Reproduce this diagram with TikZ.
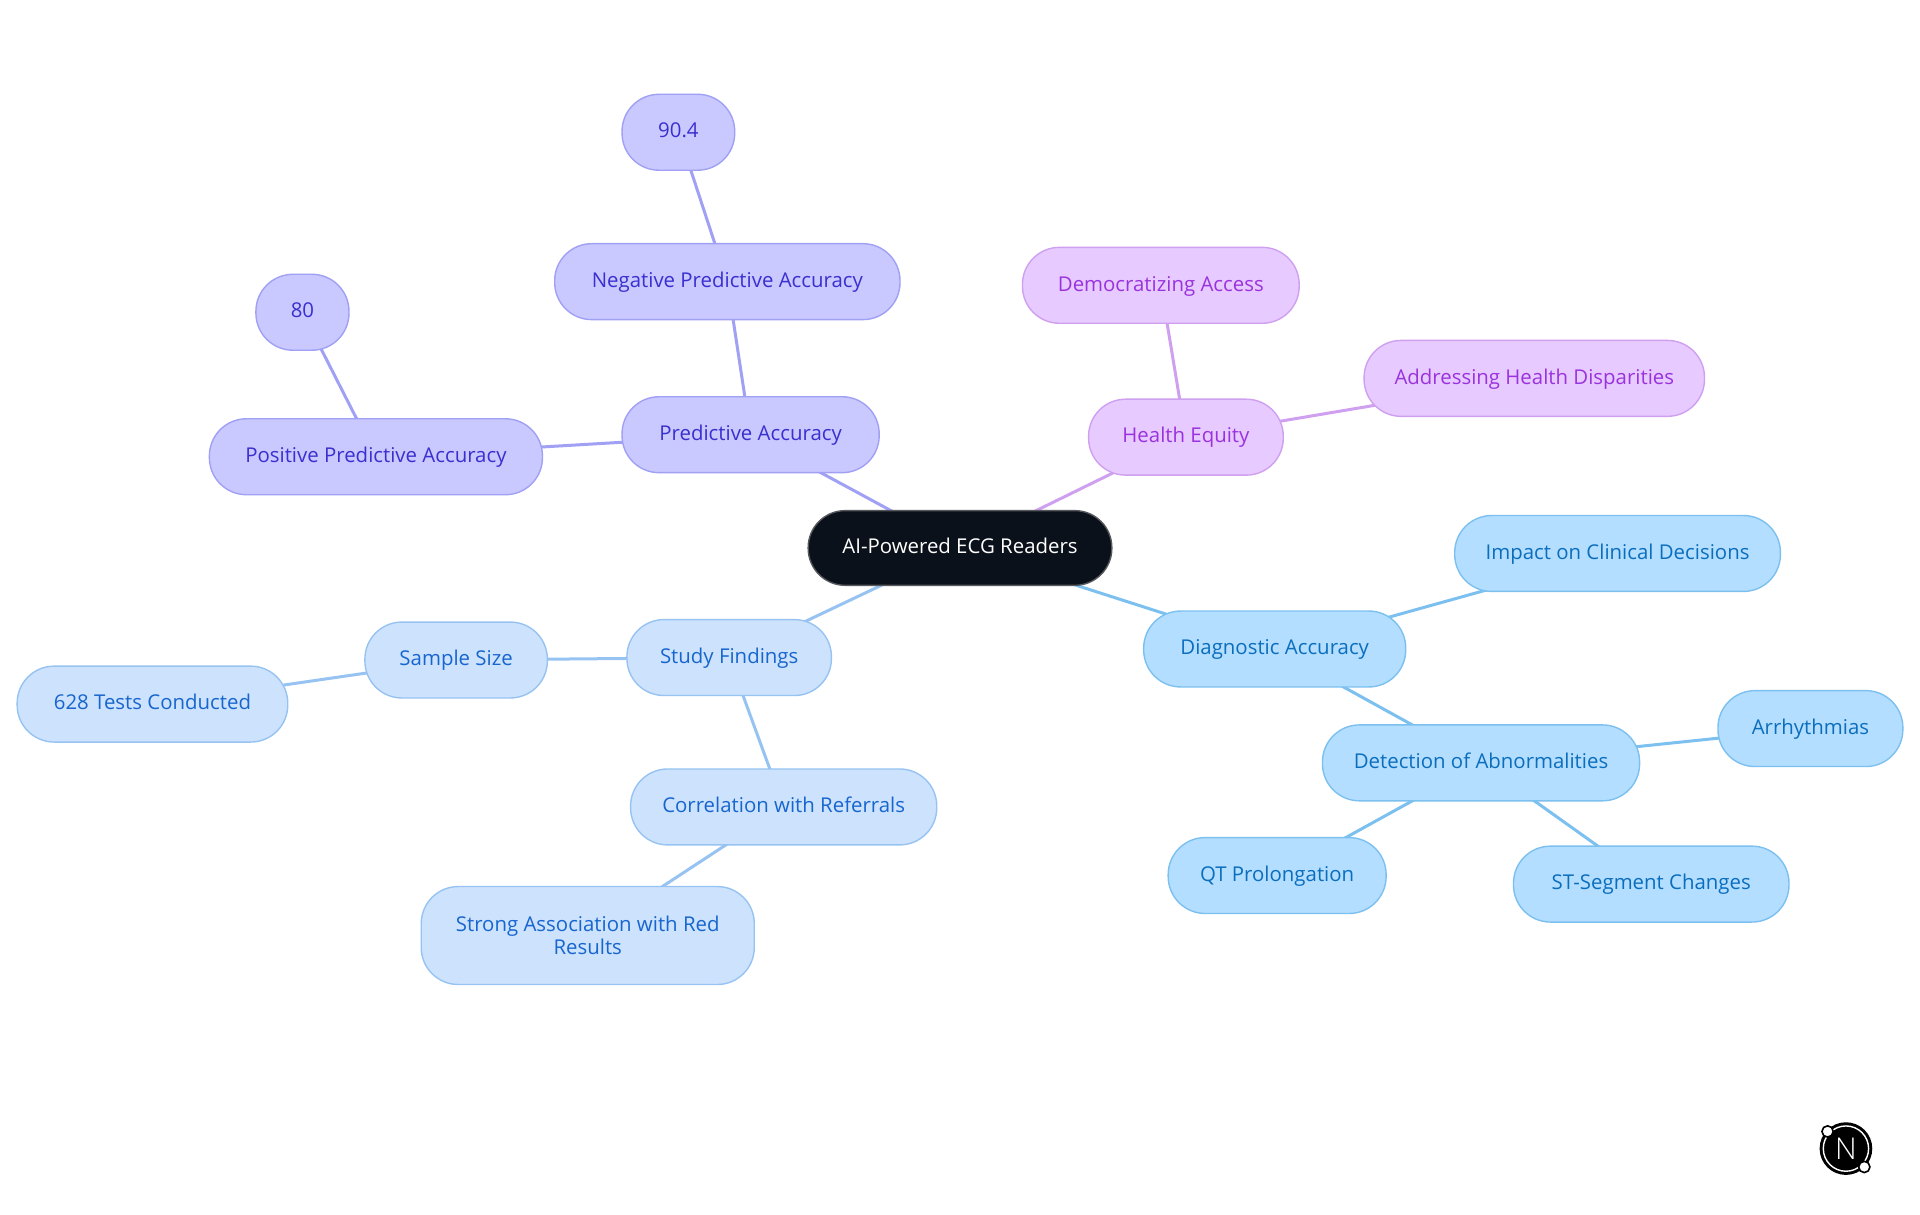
\documentclass[tikz,border=0pt]{standalone}
\usepackage{fontspec}
\setmainfont{Open Sans}
\newfontfamily\logofont{Open Sans Light}
\usetikzlibrary{backgrounds}
\definecolor{rootfill}{HTML}{0B111A}
\definecolor{rootedge}{HTML}{55585C}
\definecolor{dfill}{HTML}{B3DEFF}\definecolor{dtext}{HTML}{0B6EBD}\definecolor{dedge}{HTML}{7CC0F0}
\definecolor{sfill}{HTML}{CDE2FC}\definecolor{stext}{HTML}{1766CF}\definecolor{sedge}{HTML}{96C3F2}
\definecolor{pfill}{HTML}{C9C9FF}\definecolor{ptext}{HTML}{3A2FCF}\definecolor{pedge}{HTML}{A0A0F5}
\definecolor{hfill}{HTML}{E7CAFF}\definecolor{htext}{HTML}{9A33DD}\definecolor{hedge}{HTML}{CFA0F0}
\tikzset{
 x=0.61224pt,y=-0.61224pt,
 pill/.style={rounded corners=18.5pt,line width=0.7pt,inner sep=0pt,align=center,
   text height=8pt,text depth=2.3pt,
   font=\fontsize{10.2}{11.5}\selectfont},
 rootnode/.style={pill,fill=rootfill,draw=rootedge,text=white},
 diag/.style={pill,fill=dfill,draw=dedge,text=dtext},
 stud/.style={pill,fill=sfill,draw=sedge,text=stext},
 studtwo/.style={stud,text height=,text depth=},
 pred/.style={pill,fill=pfill,draw=pedge,text=ptext},
 heal/.style={pill,fill=hfill,draw=hedge,text=htext},
 dlink/.style={dedge,line width=1.5pt},
 slink/.style={sedge,line width=1.5pt},
 plink/.style={pedge,line width=1.5pt},
 hlink/.style={hedge,line width=1.5pt},
}
% style, name, x1, y1, x2, y2, text
\newcommand\pillnode[7]{\node[#1,minimum width={(#5-#3)*0.61224pt},minimum height={(#6-#4)*0.61224pt}] (#2) at ({(#3+#5)/2},{(#4+#6)/2}) {#7};}
\begin{document}
\begin{tikzpicture}
\useasboundingbox (0,0) rectangle (1568,992);
\pillnode{rootnode}{root}{660}{417}{908}{478}{AI-Powered ECG Readers}
\pillnode{pred}{predacc}{508}{324}{718}{386}{Predictive Accuracy}
\pillnode{pred}{neg}{453}{199}{735}{261}{Negative Predictive Accuracy}
\pillnode{pred}{nine}{508}{77}{600}{139}{90.4}
\pillnode{pred}{pos}{171}{342}{443}{404}{Positive Predictive Accuracy}
\pillnode{pred}{eighty}{209}{224}{285}{286}{80}
\pillnode{heal}{health}{889}{326}{1048}{388}{Health Equity}
\pillnode{heal}{demo}{835}{202}{1061}{264}{Democratizing Access}
\pillnode{heal}{addr}{1114}{278}{1392}{340}{Addressing Health Disparities}
\pillnode{diag}{diagacc}{934}{499}{1148}{561}{Diagnostic Accuracy}
\pillnode{diag}{impact}{1188}{421}{1454}{483}{Impact on Clinical Decisions}
\pillnode{diag}{detect}{1080}{592}{1339}{654}{Detection of Abnormalities}
\pillnode{diag}{arr}{1403}{564}{1554}{626}{Arrhythmias}
\pillnode{diag}{st}{1236}{691}{1461}{753}{ST-Segment Changes}
\pillnode{diag}{qt}{954}{684}{1132}{746}{QT Prolongation}
\pillnode{stud}{study}{512}{506}{679}{568}{Study Findings}
\pillnode{stud}{sample}{298}{508}{447}{570}{Sample Size}
\pillnode{stud}{tests}{14}{544}{235}{606}{628 Tests Conducted}
\pillnode{stud}{corr}{515}{628}{765}{690}{Correlation with Referrals}
\pillnode{studtwo}{strong}{344}{724}{616}{804}{Strong Association with Red\\Results}
\begin{pgfonlayer}{background}
\draw[plink] (root.center)--(predacc.center);
\draw[plink] (predacc.center)--(neg.center);
\draw[plink] (neg.center)--(nine.center);
\draw[plink] (predacc.center)--(pos.center);
\draw[plink] (pos.center)--(eighty.center);
\draw[hlink] (root.center)--(health.center);
\draw[hlink] (health.center)--(demo.center);
\draw[hlink] (health.center)--(addr.center);
\draw[dlink] (root.center)--(diagacc.center);
\draw[dlink] (diagacc.center)--(impact.center);
\draw[dlink] (diagacc.center)--(detect.center);
\draw[dlink] (detect.center)--(arr.center);
\draw[dlink] (detect.center)--(st.center);
\draw[dlink] (detect.center)--(qt.center);
\draw[slink] (root.center)--(study.center);
\draw[slink] (study.center)--(sample.center);
\draw[slink] (sample.center)--(tests.center);
\draw[slink] (study.center)--(corr.center);
\draw[slink] (corr.center)--(strong.center);
\end{pgfonlayer}
% logo
\fill[black] (1507.5,938) circle[radius=21.5];
\draw[white,line width=0.7pt] (1507.5,938) circle[radius=18.5];
\node[text=white,font=\logofont\fontsize{15}{15}\selectfont,inner sep=0pt] (logo) at (1507.5,938) {N};
\draw[black,fill=white,line width=0.8pt] (1492.5,924) circle[radius=4.6];
\draw[black,fill=white,line width=0.8pt] (1522.5,953) circle[radius=4.6];
\end{tikzpicture}
\end{document}
